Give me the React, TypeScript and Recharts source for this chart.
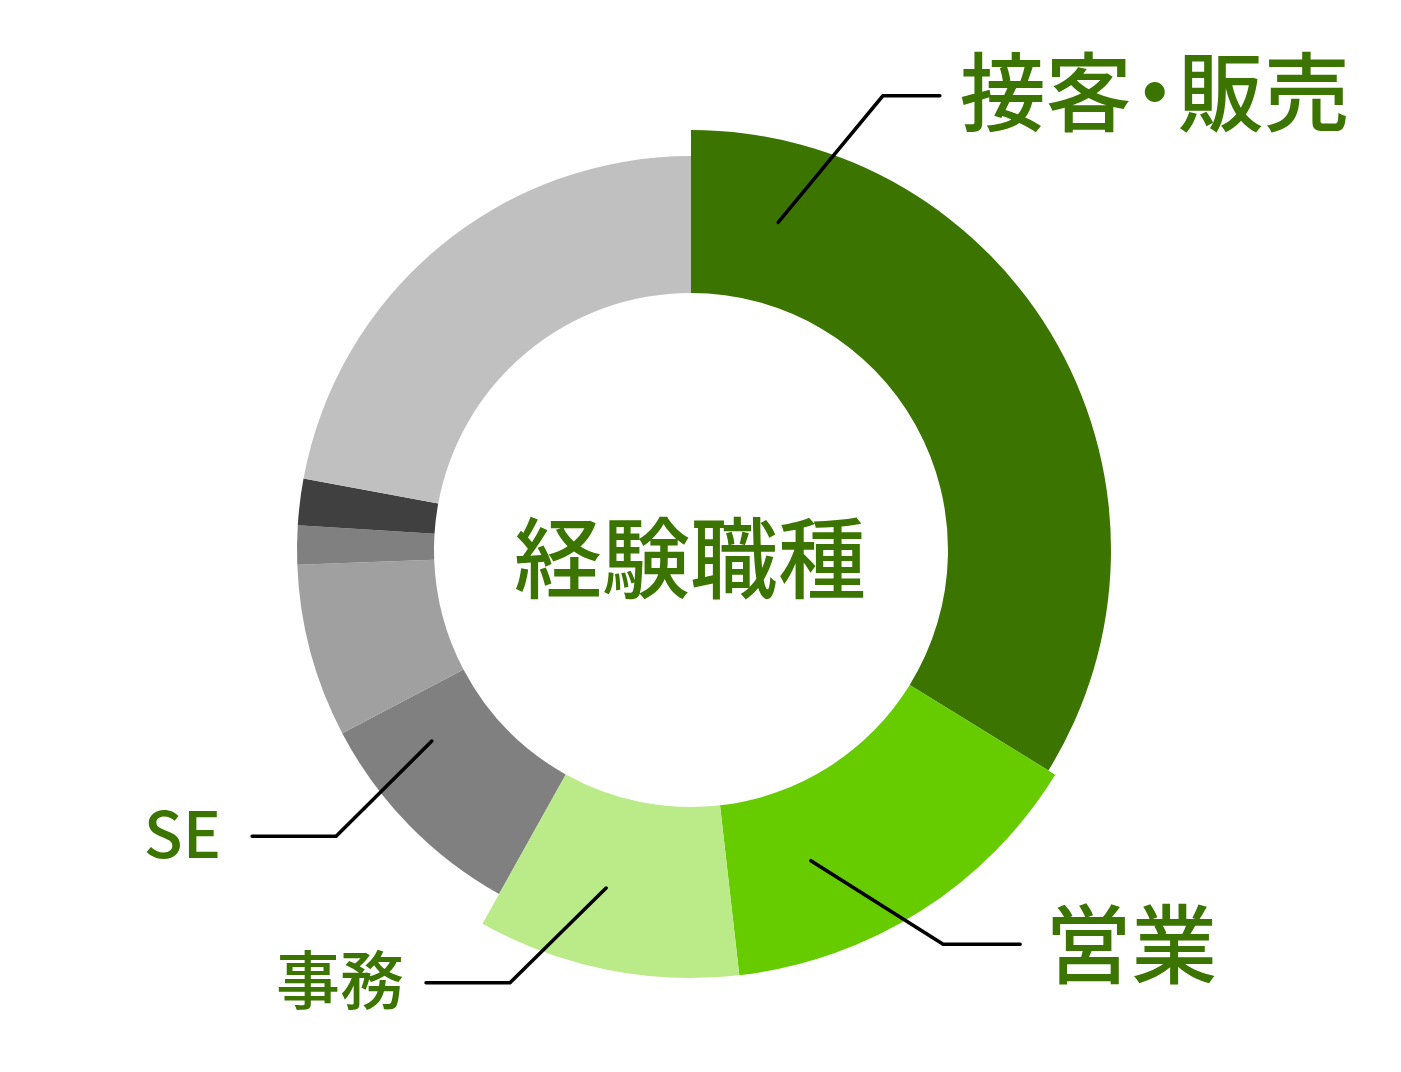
import React from 'react';
import { PieChart, Pie, Cell, Label } from 'recharts';

// ---- data ----
const categories = ['接客・販売', '営業', '事務', 'SE', 'その他A', 'その他B', 'その他C', 'その他D'];
const shares = [33.8, 14.4, 9.9, 9.2, 7.1, 1.6, 1.9, 22.1];
const centerTitle = '経験職種';

// ---- styles ----
const TEXT_GREEN = '#3b7500';
const FONT = "'Noto Sans CJK JP', 'Noto Sans', sans-serif";
const COLORS: Record<string, string> = {
  '接客・販売': '#3b7500',
  '営業': '#66cc00',
  '事務': '#bbeb88',
  'SE': '#808080',
  'その他A': '#a0a0a0',
  'その他B': '#808080',
  'その他C': '#404040',
  'その他D': '#c0c0c0',
};
const RING_OUTER: Record<string, number> = {
  '接客・販売': 420,
  '営業': 428,
  '事務': 428,
};
const BASE_OUTER = 394;
const INNER = 257;
const CX = 691;
const CY = 550;

// label / leader layout (polar, degrees clockwise from 12 o'clock)
const LABEL_LAYOUT: Record<string, any> = {
  '接客・販売': { a0: 14.9, r0: 339, a1: 22.9, r1: 493, len: 57, side: 'right', gap: 20, fontSize: 86, dy: -9 },
  '営業': { a0: 158.9, r0: 333, a1: 147.4, r1: 468, len: 77, side: 'right', gap: 25, fontSize: 86, dy: -5 },
  '事務': { a0: 194.1, r0: 348.5, a1: 202.7, r1: 469, len: 84, side: 'left', gap: 22, fontSize: 64, dy: -7 },
  'SE': { a0: 233.6, r0: 322, a1: 231.1, r1: 456, len: 84, side: 'left', gap: 31, fontSize: 64, dy: -6 },
};

const data = categories.map((name, i) => ({ name, value: shares[i] }));
const radiusLayers = [BASE_OUTER, ...Array.from(new Set(Object.values(RING_OUTER)))];

const polar = (cx: number, cy: number, r: number, deg: number) => {
  const t = (deg * Math.PI) / 180;
  return { x: cx + r * Math.sin(t), y: cy - r * Math.cos(t) };
};

const renderText = (name: string) => {
  if (name.includes('・')) {
    const [a, b] = name.split('・');
    return (
      <>
        <tspan>{a}</tspan>
        <tspan dx={-20}>・</tspan>
        <tspan dx={-20}>{b}</tspan>
      </>
    );
  }
  return name;
};

const renderLeader = (props: any) => {
  const { cx, cy, name, index } = props;
  const cfg = LABEL_LAYOUT[name];
  if (!cfg) return null;
  const p0 = polar(cx, cy, cfg.r0, cfg.a0);
  const p1 = polar(cx, cy, cfg.r1, cfg.a1);
  const right = cfg.side === 'right';
  const xEnd = right ? p1.x + cfg.len : p1.x - cfg.len;
  const tx = right ? xEnd + cfg.gap : xEnd - cfg.gap;
  return (
    <g key={`leader-${index}`}>
      <polyline
        points={`${p0.x},${p0.y} ${p1.x},${p1.y} ${xEnd},${p1.y}`}
        fill="none"
        stroke="#000"
        strokeWidth={3.5}
        strokeLinecap="round"
      />
      <text
        x={tx}
        y={p1.y + cfg.dy}
        textAnchor={right ? 'start' : 'end'}
        dominantBaseline="central"
        fontSize={cfg.fontSize}
        fontFamily={FONT}
        fontWeight={500}
        fill={TEXT_GREEN}
      >
        {renderText(name)}
      </text>
    </g>
  );
};

const renderCenter = (props: any) => {
  const vb = props.viewBox || {};
  const cx = vb.cx ?? CX;
  const cy = vb.cy ?? CY;
  return (
    <text
      x={cx - 1}
      y={cy + 2}
      textAnchor="middle"
      dominantBaseline="central"
      fontSize={88}
      fontFamily={FONT}
      fontWeight={500}
      fill={TEXT_GREEN}
    >
      {centerTitle}
    </text>
  );
};

export default function App() {
  return (
    <div style={{ position: 'absolute', left: 0, top: 0, width: 1401, height: 1072, background: '#fff' }}>
      <PieChart width={1401} height={1072} margin={{ top: 0, right: 0, bottom: 0, left: 0 }}>
        {radiusLayers.map((r, li) => {
          const last = li === radiusLayers.length - 1;
          return (
            <Pie
              key={`layer-${r}`}
              data={data}
              dataKey="value"
              nameKey="name"
              cx={CX}
              cy={CY}
              innerRadius={INNER}
              outerRadius={r}
              startAngle={90}
              endAngle={-270}
              stroke="none"
              isAnimationActive={false}
              label={last ? renderLeader : false}
              labelLine={false}
            >
              {data.map((d) => {
                const outer = RING_OUTER[d.name] ?? BASE_OUTER;
                return <Cell key={d.name} fill={outer === r ? COLORS[d.name] : 'none'} stroke="none" />;
              })}
              {last ? <Label content={renderCenter} position="center" /> : null}
            </Pie>
          );
        })}
      </PieChart>
    </div>
  );
}
